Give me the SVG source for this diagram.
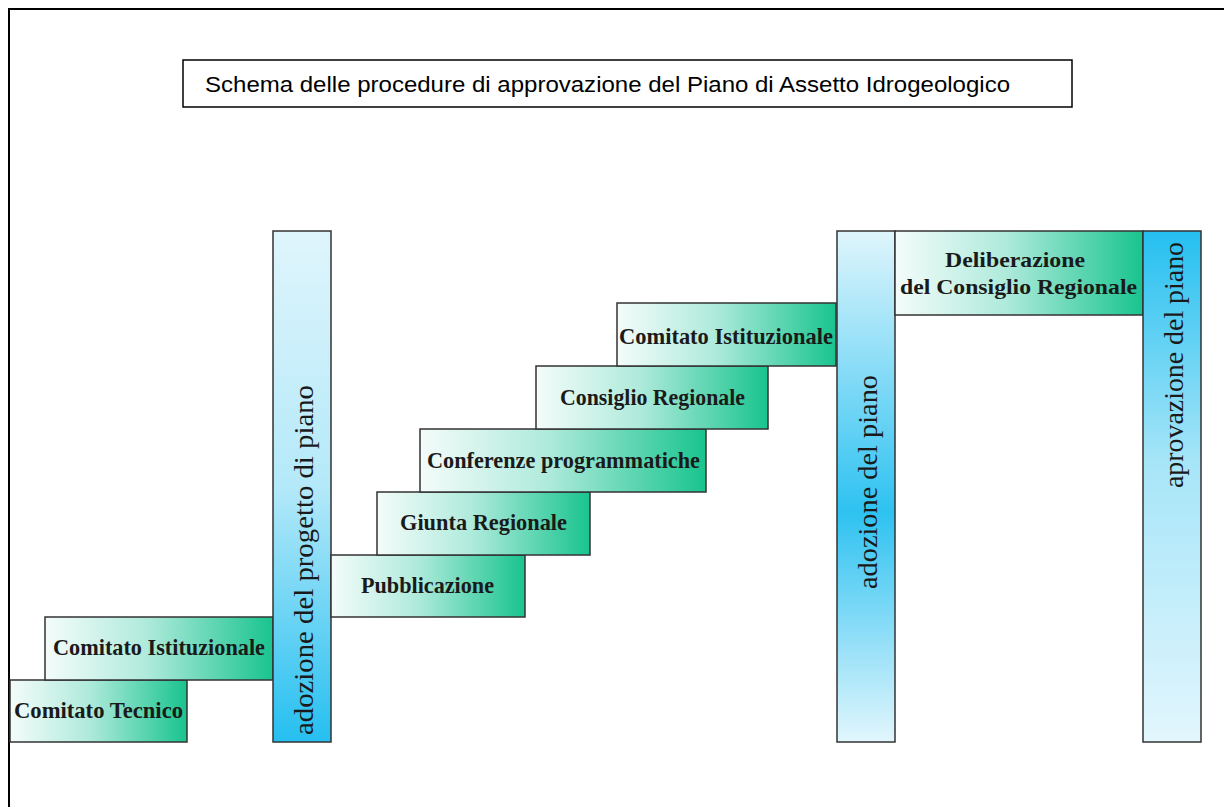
<svg xmlns="http://www.w3.org/2000/svg" width="1224" height="807" viewBox="0 0 1224 807">
<defs>
<linearGradient id="gGreen" x1="0" y1="0" x2="1" y2="0">
<stop offset="0" stop-color="#f4fcfa"/>
<stop offset="0.45" stop-color="#aeeadb"/>
<stop offset="1" stop-color="#19c48e"/>
</linearGradient>
<linearGradient id="gBlueUp" x1="0" y1="0" x2="0" y2="1">
<stop offset="0" stop-color="#dff5fc"/>
<stop offset="0.5" stop-color="#b4e9f9"/>
<stop offset="1" stop-color="#25bff0"/>
</linearGradient>
<linearGradient id="gBlueMid" x1="0" y1="0" x2="0" y2="1">
<stop offset="0" stop-color="#dff5fc"/>
<stop offset="0.55" stop-color="#2ec2f1"/>
<stop offset="1" stop-color="#e2f6fd"/>
</linearGradient>
<linearGradient id="gBlueDown" x1="0" y1="0" x2="0" y2="1">
<stop offset="0" stop-color="#25bff0"/>
<stop offset="0.45" stop-color="#a6e5f8"/>
<stop offset="1" stop-color="#e2f6fd"/>
</linearGradient>
</defs>
<style>
.box{stroke:#333;stroke-width:1.5;}
.g{fill:url(#gGreen);}
.lbl{font-family:"Liberation Serif","Times New Roman",serif;font-weight:bold;font-size:23px;fill:#1a1a1a;}
.lbl2{font-family:"Liberation Serif","Times New Roman",serif;font-weight:bold;font-size:21px;fill:#1a1a1a;}
.vl{font-family:"Liberation Serif","Times New Roman",serif;font-size:28px;fill:#1a1a1a;}
.ttl{font-family:"Liberation Sans",Arial,sans-serif;font-size:22px;fill:#000;}
</style>
<rect width="1224" height="807" fill="#fff"/>
<path d="M9,807 V9 H1224" fill="none" stroke="#000" stroke-width="2"/>
<g id="title">
<rect x="183" y="60" width="889" height="47" fill="#fff" stroke="#000" stroke-width="1.5"/>
<text class="ttl" x="205" y="92" textLength="805" lengthAdjust="spacingAndGlyphs">Schema delle procedure di approvazione del Piano di Assetto Idrogeologico</text>
</g>
<g id="comitato-tecnico">
<rect class="box g" x="10" y="680" width="177" height="62"/>
<text class="lbl" x="14" y="718" textLength="169" lengthAdjust="spacingAndGlyphs">Comitato Tecnico</text>
</g>
<g id="comitato-istituzionale-1">
<rect class="box g" x="45" y="617" width="228" height="63"/>
<text class="lbl" x="53" y="655" textLength="212" lengthAdjust="spacingAndGlyphs">Comitato Istituzionale</text>
</g>
<g id="adozione-progetto">
<rect class="box" x="273" y="231" width="58" height="511" fill="url(#gBlueUp)"/>
<text class="vl" transform="translate(313,735) rotate(-90)" x="0" y="0" textLength="350" lengthAdjust="spacingAndGlyphs">adozione del progetto di piano</text>
</g>
<g id="pubblicazione">
<rect class="box g" x="331" y="555" width="194" height="62"/>
<text class="lbl" x="361" y="593" textLength="133" lengthAdjust="spacingAndGlyphs">Pubblicazione</text>
</g>
<g id="giunta-regionale">
<rect class="box g" x="377" y="492" width="213" height="63"/>
<text class="lbl" x="400" y="530" textLength="167" lengthAdjust="spacingAndGlyphs">Giunta Regionale</text>
</g>
<g id="conferenze">
<rect class="box g" x="420" y="429" width="286" height="63"/>
<text class="lbl" x="427" y="468" textLength="273" lengthAdjust="spacingAndGlyphs">Conferenze programmatiche</text>
</g>
<g id="consiglio-regionale">
<rect class="box g" x="536" y="366" width="232" height="63"/>
<text class="lbl" x="560" y="405" textLength="185" lengthAdjust="spacingAndGlyphs">Consiglio Regionale</text>
</g>
<g id="comitato-istituzionale-2">
<rect class="box g" x="617" y="303" width="219" height="63"/>
<text class="lbl" x="619" y="344" textLength="214" lengthAdjust="spacingAndGlyphs">Comitato Istituzionale</text>
</g>
<g id="adozione-piano">
<rect class="box" x="837" y="231" width="58" height="511" fill="url(#gBlueMid)"/>
<text class="vl" transform="translate(877,589) rotate(-90)" x="0" y="0" textLength="214" lengthAdjust="spacingAndGlyphs">adozione del piano</text>
</g>
<g id="deliberazione">
<rect class="box g" x="895" y="231" width="248" height="84"/>
<text class="lbl2" x="945" y="267" textLength="140" lengthAdjust="spacingAndGlyphs">Deliberazione</text>
<text class="lbl2" x="900" y="294" textLength="237" lengthAdjust="spacingAndGlyphs">del Consiglio Regionale</text>
</g>
<g id="approvazione-piano">
<rect class="box" x="1143" y="231" width="58" height="511" fill="url(#gBlueDown)"/>
<text class="vl" transform="translate(1183,488) rotate(-90)" x="0" y="0" textLength="246" lengthAdjust="spacingAndGlyphs">aprovazione del piano</text>
</g>
<g id="connectors"></g>
</svg>
